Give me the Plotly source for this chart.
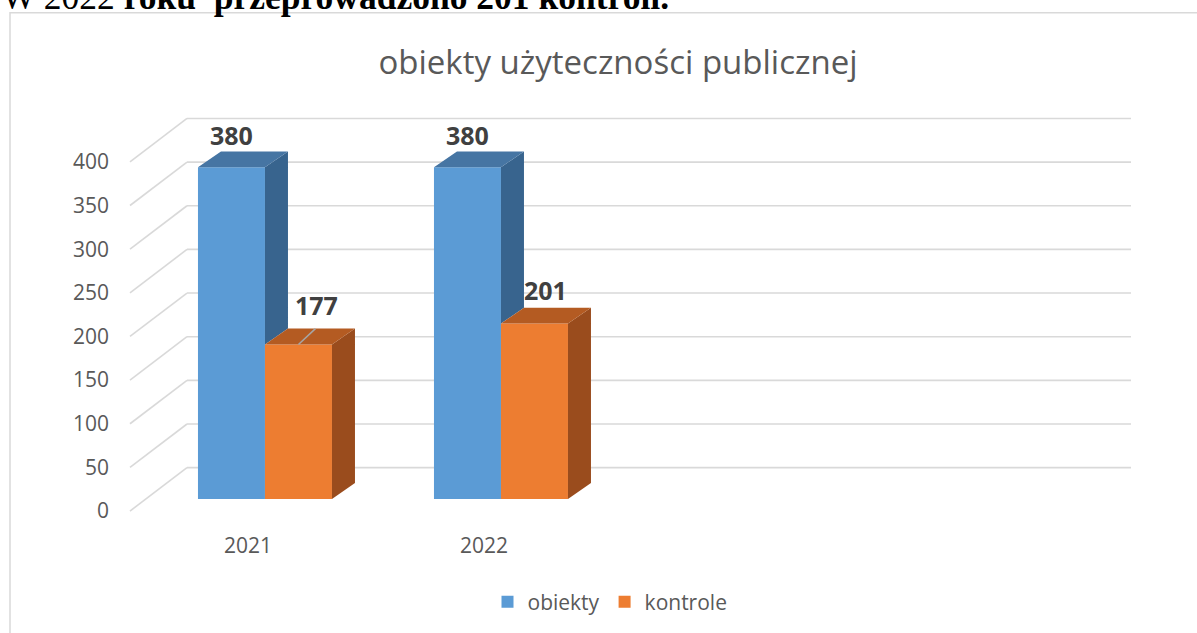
import plotly.graph_objects as go

# ---- data ----
categories = ["2021", "2022"]
series_names = ["obiekty", "kontrole"]
obiekty = [380, 380]
kontrole = [177, 201]
y_ticks = [0, 50, 100, 150, 200, 250, 300, 350, 400]
title_text = "obiekty użyteczności publicznej"
heading_text = "W 2022 <b>roku\u00a0\u00a0przeprowadzono 201 kontroli.</b>"

# ---- style / geometry ----
W, H = 1197, 633
ML, MR, MT, MB = 110, 47, 100, 101
PX_X = 236.0          # px per category slot
PX_Y = 0.875          # px per value unit
N_SLOTS = 4
BACK_DX, BACK_DY = 57 / PX_X, 43.5 / PX_Y
BAR_BASE = 12 / PX_Y
BAR_W = 67 / PX_X
BAR_OFF = 0.288
SIDE_DX, SIDE_DY = 23 / PX_X, 16 / PX_Y

front_cols = ["#5B9BD5", "#ED7D31"]
top_cols = ["#4675A3", "#B45B22"]
side_cols = ["#38648E", "#9A4C1D"]
grid_col = "#D9D9D9"
txt_col = "#595959"
lab_col = "#404040"
FONT = "Open Sans"

plot_w = W - ML - MR
plot_h = H - MT - MB
x_min = (ML - 130) / PX_X
x_max = x_min + plot_w / PX_X
y_min = -(H - MB - 512) / PX_Y
y_max = y_min + plot_h / PX_Y

series = [obiekty, kontrole]

fig = go.Figure()

# front faces (bars)
for s, vals in enumerate(series):
    xs = [i + BAR_OFF + BAR_W * s + BAR_W / 2 for i in range(len(categories))]
    fig.add_trace(go.Bar(
        x=xs, y=vals, base=BAR_BASE, width=BAR_W, name=series_names[s],
        marker=dict(color=front_cols[s], line=dict(width=0)),
        hoverinfo="skip", showlegend=True))

# side and top faces
for s, vals in enumerate(series):
    sx, sy, tx, ty = [], [], [], []
    for i, v in enumerate(vals):
        x0 = i + BAR_OFF + BAR_W * s
        x1 = x0 + BAR_W
        top = BAR_BASE + v
        low = BAR_BASE
        if s + 1 < len(series):
            low = max(low, BAR_BASE + series[s + 1][i])
        if low < top:
            sx += [x1, x1 + SIDE_DX, x1 + SIDE_DX, x1, x1, None]
            sy += [low, low + SIDE_DY, top + SIDE_DY, top, low, None]
        tx += [x0, x1, x1 + SIDE_DX, x0 + SIDE_DX, x0, None]
        ty += [top, top, top + SIDE_DY, top + SIDE_DY, top, None]
    fig.add_trace(go.Scatter(x=sx, y=sy, mode="lines", fill="toself",
                             fillcolor=side_cols[s], line=dict(width=0, color=side_cols[s]),
                             hoverinfo="skip", showlegend=False))
    fig.add_trace(go.Scatter(x=tx, y=ty, mode="lines", fill="toself",
                             fillcolor=top_cols[s], line=dict(width=0, color=top_cols[s]),
                             hoverinfo="skip", showlegend=False))

# data labels (offsets in px)
label_dx = [[0, 0], [18.5, 11]]
label_dy = [[3, 3], [11, 5]]
annotations = []
for s, vals in enumerate(series):
    for i, v in enumerate(vals):
        xc = i + BAR_OFF + BAR_W * s + BAR_W / 2
        annotations.append(dict(
            x=xc + label_dx[s][i] / PX_X, y=BAR_BASE + v + SIDE_DY + label_dy[s][i] / PX_Y,
            text=f"<b>{v}</b>", showarrow=False, xanchor="center", yanchor="bottom",
            yshift=-6, font=dict(family=FONT, size=25, color=lab_col)))

# leader line for the moved 2021 kontrole label
xc = 0 + BAR_OFF + BAR_W + BAR_W / 2
fig.add_trace(go.Scatter(
    x=[xc, xc + 17 / PX_X], y=[BAR_BASE + kontrole[0], BAR_BASE + kontrole[0] + SIDE_DY],
    mode="lines", line=dict(color="#A6A6A6", width=1.5), hoverinfo="skip", showlegend=False))

# gridlines (back wall + diagonals) drawn below traces
shapes = []
for v in y_ticks:
    shapes.append(dict(type="line", xref="x", yref="y", layer="below",
                       x0=0, y0=v, x1=BACK_DX, y1=v + BACK_DY,
                       line=dict(color=grid_col, width=1.6)))
    shapes.append(dict(type="line", xref="x", yref="y", layer="below",
                       x0=BACK_DX, y0=v + BACK_DY, x1=N_SLOTS + BACK_DX, y1=v + BACK_DY,
                       line=dict(color=grid_col, width=1.6)))

# chart border
shapes.append(dict(type="rect", xref="paper", yref="paper", layer="below",
                   x0=(10 - ML) / plot_w, x1=(W + 5 - ML) / plot_w,
                   y0=(H - MB - 12.5) / plot_h, y1=(H - MB - H - 10) / plot_h,
                   line=dict(color=grid_col, width=1.5), fillcolor="rgba(0,0,0,0)"))

# heading text partially cut at the top
annotations.append(dict(
    xref="paper", yref="paper", x=(0 - ML) / plot_w, y=(H - MB - 19) / plot_h,
    xanchor="left", yanchor="bottom", showarrow=False, text=heading_text,
    font=dict(family="Liberation Serif", size=35.5, color="#000000")))

fig.update_layout(
    width=W, height=H, autosize=False,
    margin=dict(l=ML, r=MR, t=MT, b=MB),
    paper_bgcolor="white", plot_bgcolor="white",
    barmode="overlay",
    title=dict(text=title_text, x=(618 - ML) / plot_w, xref="paper",
               y=1 - 62 / H, yref="container", xanchor="center", yanchor="middle",
               font=dict(family=FONT, size=33, color=txt_col)),
    xaxis=dict(range=[x_min, x_max], showgrid=False, zeroline=False, showline=False,
               tickvals=[i + 0.5 for i in range(len(categories))], ticktext=categories,
               tickfont=dict(family=FONT, size=21, color=txt_col), ticks=""),
    yaxis=dict(range=[y_min, y_max], showgrid=False, zeroline=False, showline=False,
               tickvals=y_ticks, tickfont=dict(family=FONT, size=21, color=txt_col), ticks=""),
    legend=dict(orientation="h", x=(610 - ML) / plot_w, xanchor="center",
                y=-(602 - (H - MB)) / plot_h, yanchor="middle",
                font=dict(family=FONT, size=21, color=txt_col)),
    shapes=shapes, annotations=annotations,
)

fig.write_html("out.html", config={"displayModeBar": False},
               post_script="document.body.style.margin='0';")
